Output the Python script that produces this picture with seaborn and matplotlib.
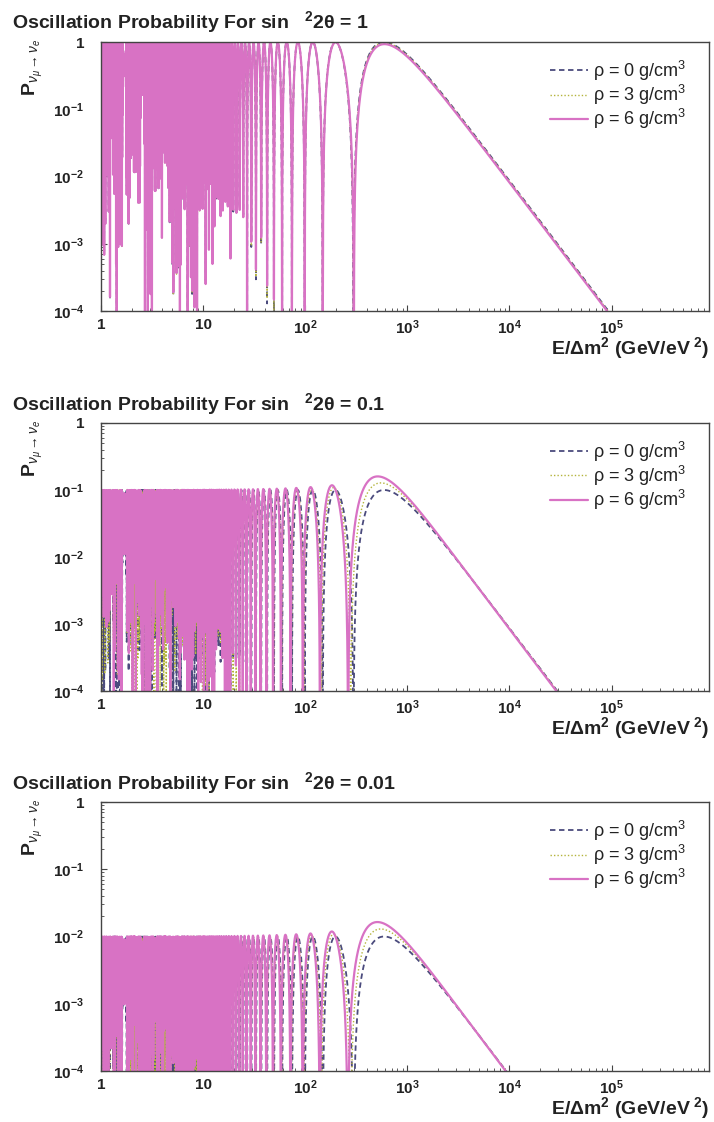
import numpy as np
import pandas as pd
import matplotlib
matplotlib.use("Agg")
import matplotlib.pyplot as plt
import seaborn as sns

# ---- data ----
mixing_values = [1.0, 0.1, 0.01]          # sin^2(2 theta) of the three panels
mixing_labels = ["1", "0.1", "0.01"]
densities = [0, 3, 6]                      # rho in g/cm^3 (legend)
baseline_km = 735                          # from first node at E/dm2 ~ 290 and 1e-4 crossing ~ 9.3e4
matter_coeff = 7.56e-5                     # A/dm2 per (g/cm^3 * GeV/eV^2), Ye = 0.5
x_range = [1.0, 9.0e5]
y_range = [1e-4, 1.0]
n_samples = 4800
x_ticks = [1, 10, 1e2, 1e3, 1e4, 1e5]
x_tick_labels = ["1", "10", r"10$^{\mathbf{2}}$", r"10$^{\mathbf{3}}$", r"10$^{\mathbf{4}}$", r"10$^{\mathbf{5}}$"]
y_ticks = [1e-4, 1e-3, 1e-2, 1e-1, 1]
y_tick_labels = [r"10$^{\mathbf{-4}}$", r"10$^{\mathbf{-3}}$", r"10$^{\mathbf{-2}}$", r"10$^{\mathbf{-1}}$", "1"]
series_colors = ["#4b4b7d", "#b4b43c", "#d872c4"]
series_styles = [(0, (3, 2)), (0, (1, 1.5)), "-"]
series_widths = [1.3, 1.0, 1.6]

sns.set_theme(style="white")
plt.rcParams["font.family"] = ["Liberation Sans", "DejaVu Sans"]
plt.rcParams["mathtext.fontset"] = "custom"
plt.rcParams["mathtext.rm"] = "Liberation Sans"
plt.rcParams["mathtext.bf"] = "Liberation Sans:bold"
plt.rcParams["mathtext.it"] = "Liberation Sans:italic"

E = np.logspace(np.log10(x_range[0]), np.log10(x_range[1]), n_samples)

rows = []
for s2, lab in zip(mixing_values, mixing_labels):
    c2 = np.sqrt(max(1.0 - s2, 0.0))
    for rho in densities:
        xm = matter_coeff * rho * E
        C = np.sqrt((c2 - xm) ** 2 + s2)
        P = (s2 / C ** 2) * np.sin(1.267 * baseline_km * C / E) ** 2
        P = np.clip(P, 1e-7, None)
        rows.append(pd.DataFrame({"E": E, "P": P, "rho": rho, "mix": lab}))
df = pd.concat(rows, ignore_index=True)

W, H = 714, 1122
fig = plt.figure(figsize=(W / 100, H / 100), dpi=100)

tops = [42, 423, 802]
bottoms = [311, 691, 1071]
left_px, right_px = 101, 709
title_y = [22, 404, 783]

for i, (lab, top, bot) in enumerate(zip(mixing_labels, tops, bottoms)):
    ax = fig.add_axes([left_px / W, 1 - bot / H, (right_px - left_px) / W, (bot - top) / H])
    sub = df[df["mix"] == lab]
    for j, rho in enumerate(densities):
        d = sub[sub["rho"] == rho]
        sns.lineplot(data=d, x="E", y="P", ax=ax, color=series_colors[j],
                     linestyle=series_styles[j], linewidth=series_widths[j],
                     sort=False, estimator=None, label=f"ρ = {rho} g/cm$^{{3}}$")
    ax.set_xscale("log")
    ax.set_yscale("log")
    ax.set_xlim(*x_range)
    ax.set_ylim(*y_range)
    ax.set_xticks(x_ticks)
    ax.set_xticklabels(x_tick_labels, fontweight="bold", fontsize=11, color="#222222")
    ax.set_yticks(y_ticks)
    ax.set_yticklabels(y_tick_labels, fontweight="bold", fontsize=11, color="#222222")
    ax.xaxis.set_minor_locator(matplotlib.ticker.LogLocator(base=10, subs=np.arange(2, 10), numticks=20))
    ax.yaxis.set_minor_locator(matplotlib.ticker.LogLocator(base=10, subs=np.arange(2, 10), numticks=20))
    ax.xaxis.set_minor_formatter(matplotlib.ticker.NullFormatter())
    ax.yaxis.set_minor_formatter(matplotlib.ticker.NullFormatter())
    ax.tick_params(axis="both", which="major", direction="in", length=4, width=0.8,
                   color="#444444", bottom=True, left=True, top=False, right=False)
    ax.tick_params(axis="both", which="minor", direction="in", length=2, width=0.6,
                   color="#444444", bottom=True, left=True, top=False, right=False)
    ax.tick_params(axis="x", which="major", pad=5)
    ax.tick_params(axis="y", which="major", pad=12)
    for sp in ax.spines.values():
        sp.set_color("#444444")
        sp.set_linewidth(1.0)
    ax.set_xlabel("")
    ax.set_ylabel("")
    ax.text(-0.112, 0.905, r"$\mathbf{P}_{\nu_{\mu}\rightarrow\nu_{e}}$", transform=ax.transAxes,
            rotation=90, ha="center", va="center", fontsize=14, color="#222222")
    ax.text(1.0, -0.138, r"E/Δm$^{\mathbf{2}}$ (GeV/eV$^{\mathbf{\ 2}}$)", transform=ax.transAxes,
            ha="right", va="center", fontsize=14, fontweight="bold", color="#222222")
    leg = ax.legend(loc="upper right", bbox_to_anchor=(0.975, 0.965), frameon=False,
                    fontsize=13, handlelength=2.1, handletextpad=0.3, labelspacing=0.0,
                    borderaxespad=0.0)
    for t in leg.get_texts():
        t.set_color("#222222")
    fig.text(12 / W, 1 - title_y[i] / H,
             f"Oscillation Probability For sin   $^{{\\mathbf{{2}}}}$2θ = {lab}",
             ha="left", va="center", fontsize=14, fontweight="bold", color="#222222")

fig.savefig("out.png", dpi=100)
